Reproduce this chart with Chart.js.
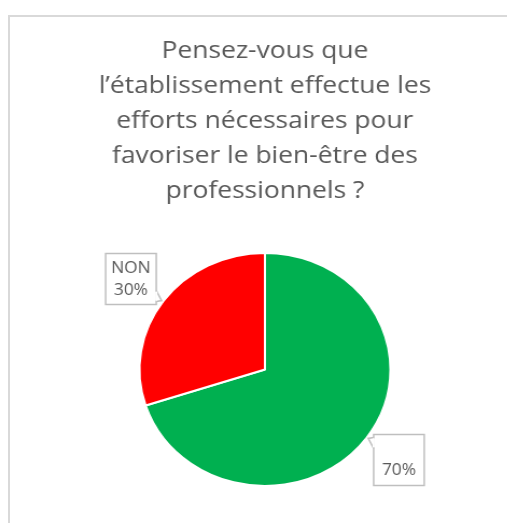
<!doctype html><html lang="fr"><head>
<meta charset="UTF-8"><title>Bien-être des professionnels</title>
<script src="https://cdn.jsdelivr.net/npm/chart.js"></script>
<style>
 html,body{margin:0;padding:0;background:#fff;overflow:hidden;width:507px;height:523px}
 #frame{position:absolute;left:8px;top:15px;width:560px;height:560px;border:2px solid #d9d9d9;box-sizing:border-box}
 #wrap{position:absolute;left:0;top:0;width:492px;height:523px;transform:scaleX(1.077);transform-origin:0 0}
</style></head><body>
<div id="frame"></div>
<div id="wrap"><canvas id="pie" width="492" height="523"></canvas></div>
<script>
// ----- data -----
const categories = ['', 'NON'];          // first slice has no visible name
const values     = [70, 30];             // percent
const colors     = ['#00B050', '#FF0000'];
const titleLines = ['Pensez-vous que', 'l\u2019établissement effectue les',
  'efforts nécessaires pour', 'favoriser le bien-être des', 'professionnels ?'];

const GREY = '#595959';

// callout labels (box + small tail pointing to the slice)
const callouts = {
  id: 'callouts',
  afterDatasetsDraw(chart){
    const ctx = chart.ctx;
    const meta = chart.getDatasetMeta(0);
    const total = values.reduce((a,b)=>a+b,0);
    meta.data.forEach((arc,i)=>{
      const {x,y,startAngle,endAngle,outerRadius} = arc.getProps(['x','y','startAngle','endAngle','outerRadius'],true);
      const mid = (startAngle+endAngle)/2;
      const cx = x + Math.cos(mid)*outerRadius*1.32;
      const cy = y + Math.sin(mid)*outerRadius*1.32;
      const w = 47, h = 51;
      const l = cx-w/2, t = cy-h/2, r = cx+w/2, b = cy+h/2;
      const sx = Math.cos(mid) < 0 ? 1 : -1;   // side facing the pie
      const sy = Math.sin(mid) < 0 ? 1 : -1;
      const corner = {x: sx>0 ? r : l, y: sy>0 ? b : t};

      ctx.save();
      ctx.fillStyle = '#fff';
      ctx.strokeStyle = '#bfbfbf';
      ctx.lineWidth = 1.5;
      ctx.beginPath();
      ctx.rect(l,t,w,h);
      ctx.fill(); ctx.stroke();
      // tail
      ctx.beginPath();
      ctx.moveTo(corner.x, corner.y - sy*14);
      ctx.lineTo(corner.x + sx*5, corner.y - sy*4);
      ctx.lineTo(corner.x, corner.y - sy*3);
      ctx.fill(); ctx.stroke();
      ctx.beginPath();
      ctx.moveTo(corner.x, corner.y - sy*13);
      ctx.lineTo(corner.x, corner.y - sy*4);
      ctx.strokeStyle = '#fff'; ctx.lineWidth = 2; ctx.stroke();

      ctx.fillStyle = GREY;
      ctx.font = '16px "Open Sans"';
      ctx.textAlign = 'center';
      ctx.textBaseline = 'middle';
      const pct = Math.round(values[i]/total*100) + '%';
      ctx.fillText(categories[i], cx, cy-11);
      ctx.fillText(pct, cx, cy+11);
      ctx.restore();
    });
  }
};

new Chart(document.getElementById('pie'), {
  type: 'pie',
  data: {
    labels: categories,
    datasets: [{ data: values, backgroundColor: colors, borderColor: '#fff', borderWidth: 2 }]
  },
  options: {
    responsive: false,
    animation: false,
    layout: { padding: { top: 0, bottom: 36, left: 10, right: 10 } },
    plugins: {
      legend: { display: false },
      tooltip: { enabled: false },
      title: {
        display: true,
        text: titleLines,
        color: GREY,
        font: { family: '"Open Sans"', size: 24.5, weight: 'normal', lineHeight: 35/24.5 },
        padding: { top: 34, bottom: 43 }
      }
    }
  },
  plugins: [callouts]
});
</script>
</body></html>
